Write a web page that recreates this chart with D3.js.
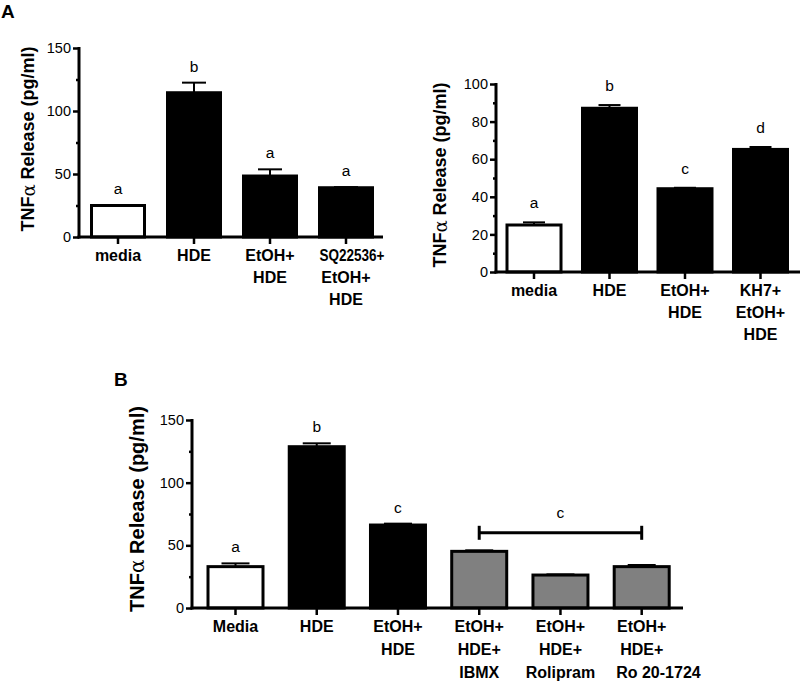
<!DOCTYPE html>
<html>
<head>
<meta charset="utf-8">
<script src="https://cdn.jsdelivr.net/npm/d3@7"></script>
<style>
  html, body { margin: 0; padding: 0; background: #fff; }
  svg { display: block; font-family: "Liberation Sans", Arial, sans-serif; }
</style>
</head>
<body>
<svg id="chart" width="800" height="681"></svg>
<script>
// ---------- DATA ----------
// Panel A, left
const catsA1 = [["media"], ["HDE"], ["EtOH+", "HDE"], ["SQ22536+", "EtOH+", "HDE"]];
const valsA1 = [25, 114.5, 48.4, 39.1];
const errsA1 = [0.4, 8.0, 5.3, 0.5];
const sigA1  = ["a", "b", "a", "a"];
const grpA1  = ["control", "treated", "treated", "treated"];
const ticksA1 = [0, 50, 100, 150];
const minorA1 = [25, 75, 125];

// Panel A, right
const catsA2 = [["media"], ["HDE"], ["EtOH+", "HDE"], ["KH7+", "EtOH+", "HDE"]];
const valsA2 = [25, 87.1, 44.3, 65.2];
const errsA2 = [1.4, 1.7, 0.5, 1.3];
const sigA2  = ["a", "b", "c", "d"];
const grpA2  = ["control", "treated", "treated", "treated"];
const ticksA2 = [0, 20, 40, 60, 80, 100];
const minorA2 = [10, 30, 50, 70, 90];

// Panel B
const catsB = [["Media"], ["HDE"], ["EtOH+", "HDE"], ["EtOH+", "HDE+", "IBMX"], ["EtOH+", "HDE+", "Rolipram"], ["EtOH+", "HDE+", "Ro 20-1724"]];
const valsB = [33, 128.7, 66.2, 45.2, 26.3, 33];
const errsB = [2.6, 2.7, 1.1, 0.8, 0.5, 1.3];
const sigB  = ["a", "b", "c", "", "", ""];
const grpB  = ["control", "treated", "treated", "inhibitor", "inhibitor", "inhibitor"];
const ticksB = [0, 50, 100, 150];
const minorB = [25, 75, 125];
const bracketB = { from: 3, to: 5, value: 60, label: "c", labelValue: 72 };

// ---------- STYLE ----------
const fillFor = { control: "#ffffff", treated: "#000000", inhibitor: "#808080" };

const svg = d3.select("#chart");

function panel(cfg) {
  const g = svg.append("g");
  const y = d3.scaleLinear().domain(cfg.domain).range([cfg.y0, cfg.y1]);
  const x = d3.scalePoint().domain(d3.range(cfg.cats.length)).range([cfg.c0, cfg.c1]);
  const n = cfg.cats.length;

  // bars
  g.selectAll("rect.bar").data(cfg.vals).join("rect")
    .attr("class", "bar")
    .attr("x", (d, i) => x(i) - cfg.bw / 2)
    .attr("width", cfg.bw)
    .attr("y", d => y(d))
    .attr("height", d => y(0) - y(d))
    .attr("fill", (d, i) => fillFor[cfg.grp[i]])
    .attr("stroke", "#000")
    .attr("stroke-width", 3);

  // error bars (upper only)
  cfg.vals.forEach((v, i) => {
    const e = cfg.errs[i];
    g.append("line").attr("x1", x(i)).attr("x2", x(i))
      .attr("y1", y(v)).attr("y2", y(v + e))
      .attr("stroke", "#000").attr("stroke-width", 2);
    g.append("line").attr("x1", x(i) - cfg.cap / 2).attr("x2", x(i) + cfg.cap / 2)
      .attr("y1", y(v + e)).attr("y2", y(v + e))
      .attr("stroke", "#000").attr("stroke-width", 2);
    if (cfg.sig[i]) {
      g.append("text").attr("x", x(i)).attr("y", y(v + e) - cfg.sigOff)
        .attr("text-anchor", "middle").attr("font-size", 15.5)
        .text(cfg.sig[i]);
    }
  });

  // y axis
  const yAxis = d3.axisLeft(y).tickValues(cfg.ticks).tickSize(6).tickPadding(2).tickFormat(d3.format("d"));
  const ya = g.append("g").attr("transform", `translate(${cfg.ax},0)`).call(yAxis);
  ya.select(".domain").remove();
  ya.selectAll(".tick line").attr("stroke", "#000").attr("stroke-width", 2.5);
  ya.selectAll(".tick text").attr("font-size", 14.5).attr("fill", "#000")
    .attr("font-family", "Liberation Sans, Arial, sans-serif");
  const yMinor = d3.axisLeft(y).tickValues(cfg.minor).tickSize(3).tickFormat("");
  const ym = g.append("g").attr("transform", `translate(${cfg.ax},0)`).call(yMinor);
  ym.select(".domain").remove();
  ym.selectAll(".tick line").attr("stroke", "#000").attr("stroke-width", 2.5);
  g.append("line").attr("x1", cfg.ax).attr("x2", cfg.ax)
    .attr("y1", y(cfg.domain[1]) - 1).attr("y2", y(0) + 1.5)
    .attr("stroke", "#000").attr("stroke-width", 3);

  // x axis
  g.append("line").attr("x1", cfg.ax - 1.5).attr("x2", cfg.xEnd)
    .attr("y1", y(0)).attr("y2", y(0))
    .attr("stroke", "#000").attr("stroke-width", 3);
  cfg.cats.forEach((lines, i) => {
    g.append("line").attr("x1", x(i)).attr("x2", x(i))
      .attr("y1", y(0)).attr("y2", y(0) + 7)
      .attr("stroke", "#000").attr("stroke-width", 2.5);
    const t = g.append("text").attr("text-anchor", "middle")
      .attr("font-size", 16).attr("font-weight", "bold");
    lines.forEach((s, k) => {
      const ts = t.append("tspan").attr("x", x(i)).attr("y", y(0) + cfg.lab0 + k * cfg.lh).text(s);
      // wide label on the last category is left-aligned to the bar's left edge
      if (i === n - 1 && ts.node().getComputedTextLength() > cfg.bw + 6) {
        ts.attr("text-anchor", "start").attr("x", x(i) - cfg.bw / 2 + cfg.lastShift);
        if (cfg.lastFit) ts.attr("textLength", cfg.lastFit).attr("lengthAdjust", "spacingAndGlyphs");
      }
    });
  });

  // y label
  const yl = g.append("text")
    .attr("transform", `translate(${cfg.ylx},${cfg.yly}) rotate(-90)`)
    .attr("text-anchor", "middle").attr("dominant-baseline", "central")
    .attr("font-size", cfg.ylSize).attr("font-weight", "bold");
  yl.append("tspan").text("TNF");
  yl.append("tspan").attr("font-weight", "normal").attr("font-family", "DejaVu Serif, serif").text("α");
  yl.append("tspan").text(" Release (pg/ml)");

  return { g, x, y };
}

panel({
  cats: catsA1, vals: valsA1, errs: errsA1, sig: sigA1, grp: grpA1,
  ticks: ticksA1, minor: minorA1, domain: [0, 150],
  y0: 237, y1: 48, c0: 118, c1: 346, bw: 53, ax: 79, xEnd: 383, cap: 24,
  sigOff: 11, lab0: 24, lh: 22, ylx: 28, yly: 139, ylSize: 18, lastShift: 0, lastFit: 65
});

panel({
  cats: catsA2, vals: valsA2, errs: errsA2, sig: sigA2, grp: grpA2,
  ticks: ticksA2, minor: minorA2, domain: [0, 100],
  y0: 272, y1: 84, c0: 534, c1: 760.5, bw: 54, ax: 496, xEnd: 800, cap: 22,
  sigOff: 14, lab0: 24, lh: 22, ylx: 440, yly: 175, ylSize: 18, lastShift: 0
});

const pB = panel({
  cats: catsB, vals: valsB, errs: errsB, sig: sigB, grp: grpB,
  ticks: ticksB, minor: minorB, domain: [0, 150],
  y0: 608, y1: 420, c0: 235.5, c1: 641.7, bw: 55, ax: 192, xEnd: 683, cap: 28,
  sigOff: 11, lab0: 23.5, lh: 23, ylx: 137, yly: 509, ylSize: 20, lastShift: 2
});

// bracket in panel B
{
  const { g, x, y } = pB;
  const bx0 = x(bracketB.from), bx1 = x(bracketB.to), by = y(bracketB.value);
  g.append("line").attr("x1", bx0).attr("x2", bx1).attr("y1", by).attr("y2", by)
    .attr("stroke", "#000").attr("stroke-width", 3);
  [bx0, bx1].forEach(bx => g.append("line").attr("x1", bx).attr("x2", bx)
    .attr("y1", by - 7).attr("y2", by + 7).attr("stroke", "#000").attr("stroke-width", 3));
  g.append("text").attr("x", (bx0 + bx1) / 2).attr("y", y(bracketB.labelValue))
    .attr("text-anchor", "middle").attr("font-size", 15.5).text(bracketB.label);
}

// panel letters
svg.append("text").attr("x", 1).attr("y", 18).attr("font-size", 19).attr("font-weight", "bold").text("A");
svg.append("text").attr("x", 114).attr("y", 386).attr("font-size", 19).attr("font-weight", "bold").text("B");
</script>
</body>
</html>
